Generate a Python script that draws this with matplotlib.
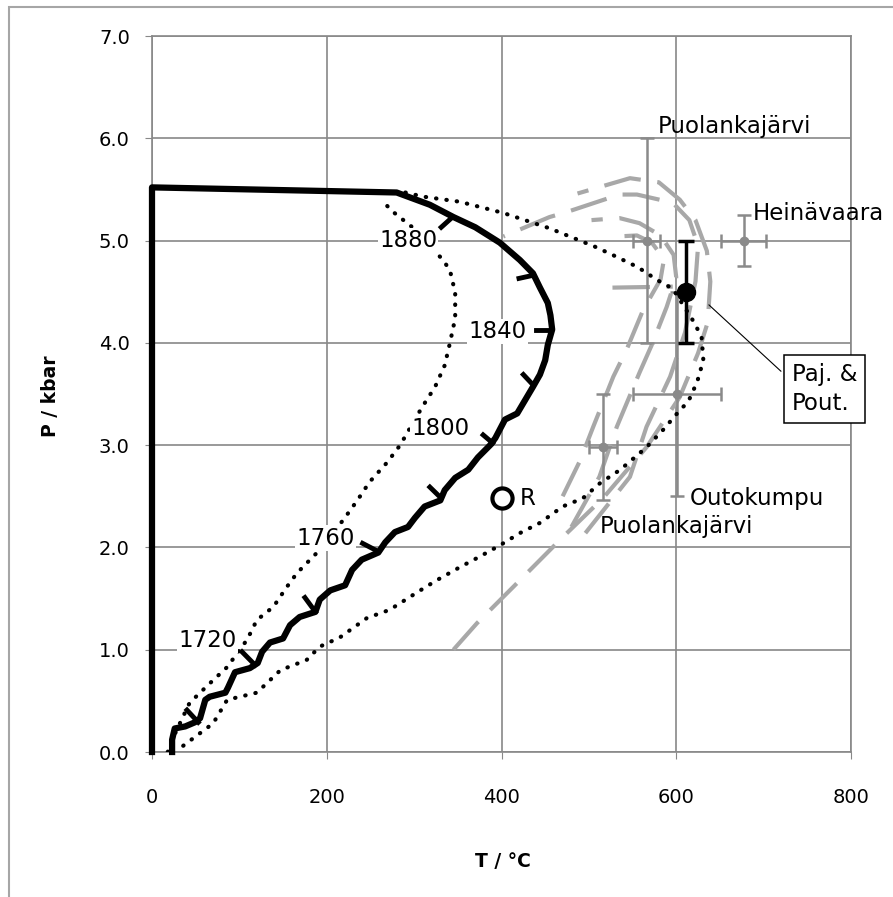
import matplotlib
matplotlib.use("Agg")
import matplotlib.pyplot as plt
from matplotlib.patches import Rectangle

plt.rcParams['font.family'] = ['DejaVu Sans']

# main P-T path (thick black)
path_T = [0, 0, 280, 318, 345, 370, 398, 421, 436, 444, 453, 456, 458, 453, 450,
          444, 436, 427, 418, 404, 393, 387, 373, 362, 347, 335, 330, 312, 301,
          293, 278, 267, 259, 240, 229, 221, 204, 192, 187, 169, 158, 150, 135,
          126, 121, 112, 95, 87, 84, 66, 61, 55, 49, 38, 26, 23, 23]
path_P = [0.0, 5.52, 5.47, 5.35, 5.23, 5.13, 4.98, 4.81, 4.68, 4.54, 4.39, 4.27,
          4.13, 3.98, 3.83, 3.69, 3.57, 3.44, 3.31, 3.25, 3.07, 3.00, 2.88, 2.76,
          2.68, 2.56, 2.46, 2.40, 2.29, 2.20, 2.15, 2.05, 1.95, 1.88, 1.78, 1.63,
          1.58, 1.49, 1.37, 1.32, 1.24, 1.11, 1.07, 0.98, 0.87, 0.82, 0.78, 0.63,
          0.58, 0.54, 0.51, 0.33, 0.29, 0.25, 0.23, 0.12, 0.0]

# direction ticks along the path (start on path, end)
tick_T0 = [344, 436, 457, 436, 390, 330, 259, 187, 118, 53]
tick_P0 = [5.23, 4.66, 4.13, 3.59, 3.02, 2.49, 1.96, 1.37, 0.85, 0.29]
tick_T1 = [331, 420, 440, 425, 379, 318, 241, 175, 103, 40]
tick_P1 = [5.13, 4.63, 4.13, 3.69, 3.10, 2.59, 2.04, 1.51, 0.98, 0.41]

# age labels
age_labels = ['1880', '1840', '1800', '1760', '1720']
age_T = [293, 395, 330, 199, 64]
age_P = [5.0, 4.11, 3.16, 2.09, 1.09]

# dotted envelopes
inner_T = [18, 23, 43, 66, 86, 109, 120, 139, 154, 166, 189, 219, 235, 249, 269,
           284, 309, 324, 335, 341, 347, 347, 341, 333, 315, 298, 276, 262]
inner_P = [0.0, 0.12, 0.48, 0.67, 0.83, 1.10, 1.29, 1.42, 1.61, 1.75, 1.95, 2.27,
           2.46, 2.64, 2.83, 3.00, 3.37, 3.57, 3.78, 4.00, 4.24, 4.49, 4.71, 4.81,
           4.98, 5.13, 5.28, 5.40]
outer_T = [290, 310, 352, 402, 455, 507, 532, 556, 579, 596, 619, 629, 631, 624,
           614, 602, 585, 566, 536, 513, 493, 470, 444, 421, 398, 375, 353, 326,
           307, 272, 246, 215, 192, 177, 147, 120, 86, 70, 34]
outer_P = [5.47, 5.43, 5.38, 5.27, 5.12, 4.94, 4.84, 4.74, 4.61, 4.53, 4.22, 4.06,
           3.83, 3.62, 3.43, 3.32, 3.15, 2.98, 2.76, 2.63, 2.48, 2.40, 2.24, 2.14,
           2.02, 1.91, 1.81, 1.68, 1.58, 1.39, 1.31, 1.12, 1.03, 0.90, 0.80, 0.58,
           0.51, 0.28, 0.05]

# grey dashed reaction curves
g1_T = [345, 372, 413, 470, 516, 566, 604, 625, 636, 639, 635, 622, 604, 580, 547, 487]
g1_P = [1.0, 1.26, 1.61, 2.10, 2.48, 2.98, 3.47, 3.90, 4.20, 4.60, 4.90, 5.20, 5.40,
        5.57, 5.61, 5.46]
g2_T = [496, 547, 566, 593, 610, 622, 625, 615, 596, 555, 535, 475, 455, 402]
g2_P = [2.14, 2.69, 3.18, 3.67, 4.10, 4.60, 4.95, 5.20, 5.37, 5.45, 5.45, 5.28, 5.23, 5.04]
g3_T = [480, 512, 532, 558, 572, 589, 600, 597, 582, 558, 535, 503]
g3_P = [2.20, 2.69, 3.18, 3.71, 3.98, 4.35, 4.64, 4.86, 5.05, 5.17, 5.22, 5.20]
g4_T = [470, 490, 505, 528, 543, 562, 582, 586, 572, 555, 532]
g4_P = [2.50, 2.85, 3.18, 3.67, 3.93, 4.32, 4.62, 4.82, 4.98, 5.05, 5.04]
g5_T = [527, 596]
g5_P = [4.54, 4.55]

# literature estimates (grey error bars)
loc_names = ['Puolankajärvi', 'Heinävaara', 'Outokumpu', 'Puolankajärvi']
loc_T = [566, 677, 601, 516]
loc_P = [5.0, 5.0, 3.5, 2.98]
loc_Terr = [15, 26, 50, 16]
loc_Perr = [1.0, 0.25, 1.0, 0.52]
loc_label_T = [579, 687, 616, 512]
loc_label_P = [6.12, 5.26, 2.48, 2.2]

# Paj. & Pout.
pp_T, pp_P, pp_Perr = 611, 4.5, 0.5
# R
r_T, r_P = 400, 2.48

fig = plt.figure(figsize=(8.93, 8.97), dpi=100)
ax = fig.add_axes([152 / 893, 1 - 752 / 897, 699 / 893, 716 / 897])

fig.add_artist(Rectangle((9 / 893, -0.05), 1.0, 1 - 7 / 897 + 0.05,
                         transform=fig.transFigure, fill=False,
                         ec='#a6a6a6', lw=1.5))

grid_c = '#888888'
ax.set_xlim(0, 800)
ax.set_ylim(0, 7)
ax.set_xticks([0, 200, 400, 600, 800])
ax.set_yticks(range(8))
ax.set_yticklabels(['%.1f' % v for v in range(8)])
ax.grid(True, color=grid_c, lw=1.2, zorder=0)
ax.set_axisbelow(True)
for s in ax.spines.values():
    s.set_color(grid_c)
    s.set_linewidth(1.2)
ax.tick_params(axis='both', direction='out', length=5, color=grid_c,
               labelsize=14, labelcolor='black')
ax.tick_params(axis='x', pad=21)
ax.tick_params(axis='y', pad=11)

ax.set_xlabel('T / °C', fontsize=13.5, fontweight='bold')
ax.set_ylabel('P / kbar', fontsize=13.5, fontweight='bold')
ax.xaxis.set_label_coords(0.502, -0.14)
ax.yaxis.set_label_coords(-0.132, 0.497)

dash = (0, (9, 4))
for gT, gP in [(g1_T, g1_P), (g2_T, g2_P), (g3_T, g3_P), (g4_T, g4_P), (g5_T, g5_P)]:
    ax.plot(gT, gP, color='#a8a8a8', lw=3, linestyle=dash, zorder=2)

ax.errorbar(loc_T, loc_P, xerr=loc_Terr, yerr=loc_Perr, fmt='o', color='#8a8a8a',
            ms=6, elinewidth=1.8, capsize=5, capthick=1.8, zorder=3)
for name, tx, ty in zip(loc_names, loc_label_T, loc_label_P):
    ax.text(tx, ty, name, fontsize=16.5, ha='left', va='center', zorder=6)

dot = (0, (0.1, 2.4))
ax.plot(inner_T, inner_P, color='black', lw=3, linestyle=dot,
        dash_capstyle='round', zorder=4)
ax.plot(outer_T, outer_P, color='black', lw=3, linestyle=dot,
        dash_capstyle='round', zorder=4)

ax.plot(path_T, path_P, color='black', lw=4.5, solid_joinstyle='round',
        clip_on=False, zorder=5)
for x0, y0, x1, y1 in zip(tick_T0, tick_P0, tick_T1, tick_P1):
    ax.plot([x0, x1], [y0, y1], color='black', lw=3.5, zorder=5)

for lab, tx, ty in zip(age_labels, age_T, age_P):
    ax.text(tx, ty, lab, fontsize=16.5, ha='center', va='center', zorder=7,
            bbox=dict(fc='white', ec='none', pad=1))

ax.errorbar([pp_T], [pp_P], yerr=[pp_Perr], fmt='o', color='black', ms=13,
            elinewidth=2.5, capsize=6, capthick=2.5, zorder=6)
ax.annotate('Paj. &\nPout.', xy=(635, 4.39), xytext=(732, 3.55),
            fontsize=16.5, ha='left', va='center', linespacing=1.35,
            bbox=dict(boxstyle='square,pad=0.35', fc='white', ec='black', lw=1.1),
            arrowprops=dict(arrowstyle='-', color='black', lw=0.8,
                            relpos=(0, 0.65)),
            annotation_clip=False, zorder=8)

ax.plot([r_T], [r_P], 'o', mfc='white', mec='black', ms=14.5, mew=3, zorder=6)
ax.text(r_T + 21, r_P, 'R', fontsize=16.5, ha='left', va='center', zorder=6)

fig.savefig('out.png', dpi=100)
